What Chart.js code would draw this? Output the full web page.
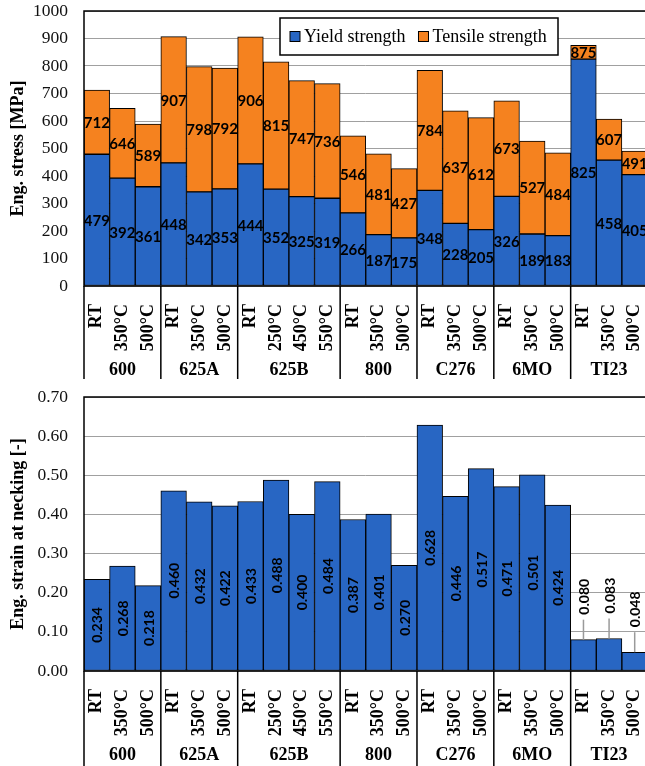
<!DOCTYPE html>
<html>
<head>
<meta charset="utf-8">
<script src="https://cdn.jsdelivr.net/npm/chart.js@4.4.1/dist/chart.umd.min.js"></script>
<style>
  html, body { margin: 0; padding: 0; background: #fff; overflow: hidden; }
  #wrap { width: 645px; height: 766px; overflow: hidden; position: relative; }
  canvas { display: block; position: absolute; left: 0; }
</style>
</head>
<body>
<div id="wrap">
  <canvas id="stress" width="650" height="386" style="top:0"></canvas>
  <canvas id="strain" width="650" height="380" style="top:386px"></canvas>
</div>
<script>
// x-achse: temperaturen und werkstoffgruppen
const tempLabels = ['RT', '350°C', '500°C', 'RT', '350°C', '500°C', 'RT', '250°C', '450°C', '550°C',
    'RT', '350°C', '500°C', 'RT', '350°C', '500°C', 'RT', '350°C', '500°C', 'RT', '350°C', '500°C'];
const groupNames = ['600', '625A', '625B', '800', 'C276', '6MO', 'TI23'];
const groupSizes = [3, 3, 4, 3, 3, 3, 3];

// werte [MPa] und dehnung [-]
const yieldStrength = [479, 392, 361, 448, 342, 353, 444, 352, 325, 319, 266, 187, 175, 348, 228, 205, 326, 189, 183, 825, 458, 405];
const tensileStrength = [712, 646, 589, 907, 798, 792, 906, 815, 747, 736, 546, 481, 427, 784, 637, 612, 673, 527, 484, 875, 607, 491];
const strainNecking = [0.234, 0.268, 0.218, 0.460, 0.432, 0.422, 0.433, 0.488, 0.400, 0.484, 0.387, 0.401, 0.270,
    0.628, 0.446, 0.517, 0.471, 0.501, 0.424, 0.080, 0.083, 0.048];

const stressTicks = [0, 100, 200, 300, 400, 500, 600, 700, 800, 900, 1000];
const strainTicks = [0, 0.1, 0.2, 0.3, 0.4, 0.5, 0.6, 0.7];

const BLUE = '#2866c3';
const ORANGE = '#f5821f';
const SERIF = '"Liberation Serif", "Times New Roman", serif';
const SANS = 'Lato, "Open Sans", sans-serif';

// keine zusaetzlichen raender der achsen
function noPadding(scale) {
    scale.paddingTop = 0;
    scale.paddingBottom = 0;
    scale.paddingLeft = 0;
    scale.paddingRight = 0;
}

// rahmen, trennlinien und gruppennamen unter der achse
const frameAndGroups = {
    id: 'frameAndGroups',
    afterDraw(chart, args, opts) {
        const ctx = chart.ctx;
        const a = chart.chartArea;
        const x = chart.scales.x;
        const half = (x.getPixelForValue(1) - x.getPixelForValue(0)) / 2;
        ctx.save();
        ctx.strokeStyle = '#000';
        ctx.lineWidth = 1.5;
        ctx.strokeRect(a.left, a.top, a.right - a.left, a.bottom - a.top);
        ctx.font = 'bold 18px ' + SERIF;
        ctx.textAlign = 'center';
        ctx.textBaseline = 'middle';
        ctx.fillStyle = '#000';
        ctx.beginPath();
        ctx.moveTo(a.left, a.bottom);
        ctx.lineTo(a.left, opts.sepEnd);
        var idx = 0;
        groupSizes.forEach((n, g) => {
            const l = x.getPixelForValue(idx) - half;
            const r = x.getPixelForValue(idx + n - 1) + half;
            ctx.fillText(groupNames[g], (l + r) / 2, opts.groupY);
            ctx.moveTo(r, a.bottom);
            ctx.lineTo(r, opts.sepEnd);
            idx += n;
        });
        ctx.stroke();
        ctx.restore();
    }
};

// legende im diagramm mit rahmen
const boxLegend = {
    id: 'boxLegend',
    afterDraw(chart, args, opts) {
        if (!opts.show) return;
        const ctx = chart.ctx;
        ctx.save();
        ctx.fillStyle = '#fff';
        ctx.fillRect(opts.left, opts.top, opts.width, opts.height);
        ctx.strokeStyle = '#000';
        ctx.lineWidth = 1.5;
        ctx.strokeRect(opts.left, opts.top, opts.width, opts.height);
        ctx.font = '18px ' + SERIF;
        ctx.textBaseline = 'middle';
        ctx.textAlign = 'left';
        var xPos = opts.left + 10;
        const yMid = opts.top + opts.height / 2;
        chart.data.datasets.forEach(ds => {
            ctx.fillStyle = ds.backgroundColor;
            ctx.fillRect(xPos, yMid - 5, 10, 10);
            ctx.lineWidth = 1;
            ctx.strokeRect(xPos, yMid - 5, 10, 10);
            ctx.fillStyle = '#000';
            ctx.fillText(ds.label, xPos + 14, yMid + 1);
            xPos += 14 + ctx.measureText(ds.label).width + 13;
        });
        ctx.restore();
    }
};

// zahlenwerte in den balken
const barValues = {
    id: 'barValues',
    afterDatasetsDraw(chart, args, opts) {
        const ctx = chart.ctx;
        ctx.save();
        ctx.font = opts.font;
        ctx.fillStyle = '#000';
        ctx.textBaseline = 'middle';
        ctx.textAlign = 'center';
        chart.data.datasets.forEach((ds, i) => {
            const texts = opts.texts[i];
            chart.getDatasetMeta(i).data.forEach((bar, j) => {
                const txt = texts[j];
                const cy = (bar.y + bar.base) / 2;
                if (!opts.rotate) {
                    ctx.fillText(txt, bar.x, cy + 1);
                    return;
                }
                const w = ctx.measureText(txt).width;
                const h = bar.base - bar.y;
                ctx.save();
                if (h < w + 8) {
                    // zu klein: wert oberhalb mit hinweislinie
                    const lb = bar.y - 22;
                    ctx.strokeStyle = '#9a9a9a';
                    ctx.lineWidth = 1.5;
                    ctx.beginPath();
                    ctx.moveTo(bar.x, bar.y);
                    ctx.lineTo(bar.x, lb + 2);
                    ctx.stroke();
                    ctx.translate(bar.x, lb - w / 2 - 3);
                } else {
                    ctx.translate(bar.x, cy);
                }
                ctx.rotate(-Math.PI / 2);
                ctx.fillText(txt, 0, 1);
                ctx.restore();
            });
        });
        ctx.restore();
    }
};

function baseOptions(yMax, yTicks, fmt, title, xHeight, sepEnd) {
    return {
        responsive: false,
        animation: false,
        devicePixelRatio: 1,
        layout: { padding: { top: 11, right: 2.5, left: 0, bottom: 0 } },
        plugins: {
            legend: { display: false },
            tooltip: { enabled: false },
            frameAndGroups: { sepEnd: sepEnd, groupY: 370 },
        },
        scales: {
            x: {
                stacked: true,
                grid: { display: false },
                border: { display: false },
                ticks: {
                    autoSkip: false,
                    minRotation: 90,
                    maxRotation: 90,
                    padding: 10,
                    color: '#000',
                    font: { family: SERIF, size: 18, weight: 'bold' }
                },
                afterFit: scale => { scale.height = xHeight; noPadding(scale); }
            },
            y: {
                stacked: true,
                min: 0,
                max: yMax,
                afterBuildTicks: scale => { scale.ticks = yTicks.map(v => ({ value: v })); },
                grid: { color: '#a0a0a0', lineWidth: 1, drawTicks: false },
                border: { display: false },
                ticks: {
                    padding: 16,
                    color: '#111',
                    font: { family: SERIF, size: 17.5 },
                    callback: fmt
                },
                title: {
                    display: true,
                    text: title,
                    color: '#000',
                    padding: { top: 8, bottom: 0 },
                    font: { family: SERIF, size: 18, weight: 'bold' }
                },
                afterFit: scale => { scale.width = 84; noPadding(scale); }
            }
        }
    };
}

// diagramm 1: festigkeit (gestapelt)
const tensileRest = tensileStrength.map((t, i) => t - yieldStrength[i]);
const stressOptions = baseOptions(1000, stressTicks, v => v, 'Eng. stress [MPa]', 100, 379);
stressOptions.plugins.boxLegend = { show: true, left: 280, top: 18, width: 278, height: 37 };
stressOptions.plugins.barValues = { rotate: false, font: 'bold 15px ' + SANS, texts: [yieldStrength, tensileStrength] };

new Chart(document.getElementById('stress'), {
    type: 'bar',
    data: {
        labels: tempLabels,
        datasets: [
            {
                label: 'Yield strength',
                data: yieldStrength,
                backgroundColor: BLUE,
                borderColor: '#000',
                borderWidth: 1,
                borderSkipped: false,
                categoryPercentage: 1,
                barPercentage: 1
            },
            {
                label: 'Tensile strength',
                data: tensileRest,
                backgroundColor: ORANGE,
                borderColor: '#000',
                borderWidth: 1,
                borderSkipped: false,
                categoryPercentage: 1,
                barPercentage: 1
            }
        ]
    },
    options: stressOptions,
    plugins: [frameAndGroups, boxLegend, barValues]
});

// diagramm 2: dehnung bei einschnuerung
const strainOptions = baseOptions(0.7, strainTicks, v => Number(v).toFixed(2), 'Eng. strain at necking [-]', 95, 380);
strainOptions.plugins.frameAndGroups.groupY = 369;
strainOptions.plugins.barValues = { rotate: true, font: 'bold 14px ' + SANS, texts: [strainNecking.map(v => v.toFixed(3))] };

new Chart(document.getElementById('strain'), {
    type: 'bar',
    data: {
        labels: tempLabels,
        datasets: [
            {
                label: 'Eng. strain at necking',
                data: strainNecking,
                backgroundColor: BLUE,
                borderColor: '#000',
                borderWidth: 1,
                borderSkipped: false,
                categoryPercentage: 1,
                barPercentage: 1
            }
        ]
    },
    options: strainOptions,
    plugins: [frameAndGroups, barValues]
});
</script>
</body>
</html>
